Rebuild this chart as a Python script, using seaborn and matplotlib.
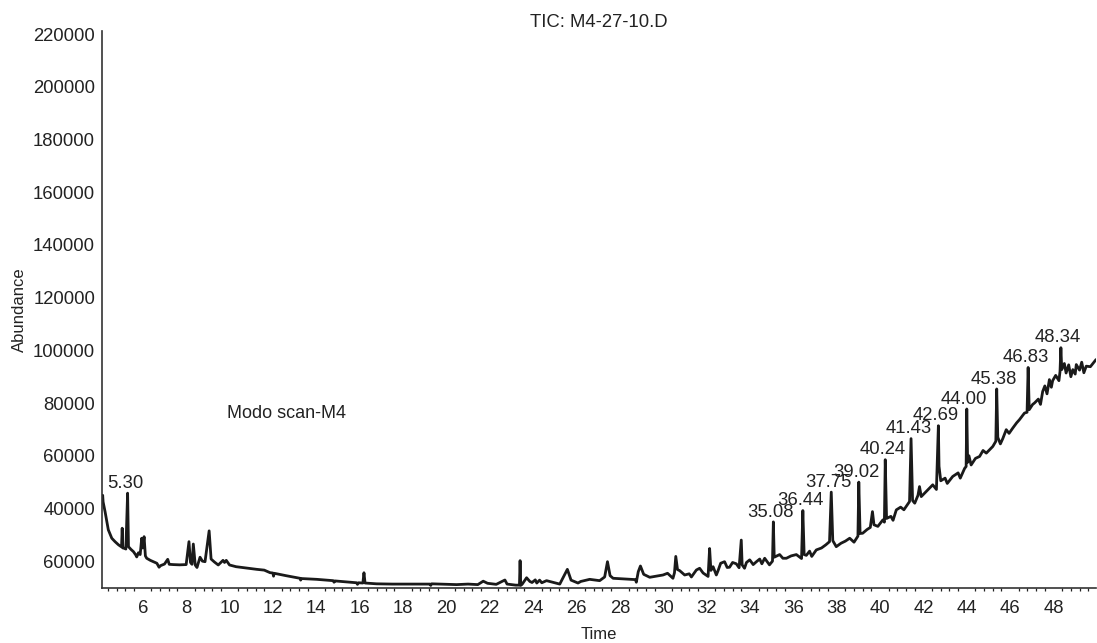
import numpy as np
import pandas as pd
import seaborn as sns
import matplotlib
matplotlib.use("Agg")
import matplotlib.pyplot as plt
from matplotlib.ticker import MultipleLocator

# TIC trace (time in min, abundance)
time = [4.13, 4.15, 4.17, 4.26, 4.41, 4.57, 4.72, 4.88, 4.98, 5.02, 5.05, 5.08,
        5.14, 5.22, 5.30, 5.34, 5.45, 5.57, 5.68, 5.72, 5.80, 5.88, 5.95, 6.00,
        6.06, 6.12, 6.18, 6.35, 6.49, 6.65, 6.75, 6.82, 7.00, 7.15, 7.22, 7.40,
        7.70, 8.00, 8.13, 8.20, 8.27, 8.33, 8.42, 8.50, 8.64, 8.75, 8.87, 9.06,
        9.15, 9.30, 9.48, 9.70, 9.77, 9.85, 10.00, 10.30, 10.64, 11.25, 11.60, 11.87,
        12.00, 12.03, 12.06, 12.60, 13.25, 13.28, 13.32, 14.02, 14.50, 14.78, 14.82, 14.86,
        15.40, 15.86, 15.90, 15.95, 16.15, 16.20, 16.25, 16.78, 17.50, 18.30, 19.24, 19.28,
        19.32, 20.00, 20.47, 21.00, 21.45, 21.70, 21.90, 22.30, 22.70, 22.80, 23.20, 23.37,
        23.40, 23.43, 23.50, 23.70, 23.85, 23.95, 24.10, 24.17, 24.30, 24.40, 24.62, 25.00,
        25.23, 25.58, 25.75, 26.07, 26.20, 26.61, 27.07, 27.30, 27.43, 27.55, 27.69, 28.30,
        28.72, 28.76, 28.85, 28.95, 29.10, 29.38, 29.99, 30.20, 30.45, 30.52, 30.58, 30.66,
        30.76, 30.99, 31.20, 31.30, 31.53, 31.68, 31.84, 32.07, 32.14, 32.20, 32.30, 32.45,
        32.53, 32.65, 32.83, 32.95, 33.06, 33.20, 33.37, 33.50, 33.60, 33.64, 33.75, 33.84,
        33.99, 34.15, 34.30, 34.45, 34.55, 34.68, 34.90, 35.04, 35.08, 35.12, 35.37, 35.52,
        35.68, 35.90, 36.14, 36.38, 36.44, 36.50, 36.60, 36.75, 36.85, 37.06, 37.30, 37.50,
        37.67, 37.75, 37.82, 37.98, 38.20, 38.40, 38.60, 38.80, 38.98, 39.02, 39.08, 39.20,
        39.40, 39.55, 39.65, 39.72, 39.90, 40.13, 40.20, 40.24, 40.30, 40.50, 40.60, 40.75,
        40.95, 41.10, 41.36, 41.43, 41.50, 41.60, 41.75, 41.82, 41.90, 42.10, 42.43, 42.60,
        42.69, 42.72, 42.80, 43.00, 43.10, 43.35, 43.60, 43.70, 43.90, 43.97, 44.00, 44.04,
        44.10, 44.20, 44.40, 44.59, 44.75, 44.90, 45.20, 45.34, 45.38, 45.43, 45.55, 45.66,
        45.82, 45.95, 46.12, 46.30, 46.43, 46.66, 46.78, 46.83, 46.88, 47.04, 47.12, 47.30,
        47.40, 47.50, 47.60, 47.70, 47.81, 47.90, 47.96, 48.10, 48.25, 48.30, 48.34, 48.38,
        48.50, 48.58, 48.70, 48.80, 48.89, 49.00, 49.05, 49.20, 49.30, 49.40, 49.51, 49.70,
        49.96]
abundance = [43000, 45000, 42500, 38800, 31900, 28700, 27400, 26200, 25600, 25400, 32500, 25000,
             24900, 24600, 45800, 25500, 24500, 23600, 22300, 21600, 23200, 22500, 28700, 25000,
             29300, 22000, 21100, 20300, 19800, 19200, 17700, 18300, 18900, 20700, 18800, 18700,
             18600, 18700, 27400, 19500, 18800, 26500, 18500, 17600, 21500, 20000, 19800, 31500,
             20800, 19700, 18550, 20300, 19500, 20300, 18550, 17900, 17530, 16900, 16600, 15630,
             15500, 14300, 15400, 14500, 13500, 12800, 13400, 13100, 12800, 12600, 12000, 12500,
             12100, 11800, 11200, 11800, 11700, 15600, 11700, 11400, 11300, 11300, 11300, 10800,
             11400, 11200, 11100, 11300, 11100, 12400, 11600, 11200, 12850, 11300, 10900, 10900,
             20200, 10800, 11300, 13700, 12300, 11900, 12900, 11700, 12800, 11800, 12600, 11800,
             11300, 16900, 12800, 11700, 12300, 13100, 12600, 14000, 19800, 14500, 13500, 13200,
             13000, 12000, 16000, 18170, 15000, 13880, 14750, 15400, 13500, 15600, 21800, 16800,
             16400, 14750, 15200, 14000, 16650, 17300, 15500, 14200, 24800, 16500, 17900, 14750,
             16400, 19200, 19800, 17600, 17700, 19500, 19000, 17500, 28000, 18600, 17300, 19500,
             20500, 18700, 19800, 20800, 19000, 21100, 18600, 20000, 34900, 21500, 22500, 21100,
             21100, 22000, 22500, 21000, 39200, 22500, 22200, 23800, 21800, 24260, 25000, 26200,
             27400, 46200, 27800, 25500, 26800, 27600, 28700, 27200, 29500, 50000, 30500, 30600,
             32000, 32800, 38800, 33800, 33200, 35660, 34800, 58500, 36200, 37000, 35500, 39460,
             40500, 39500, 42620, 66500, 43000, 42000, 45000, 48300, 44500, 46200, 48970, 47200,
             71400, 56000, 50500, 51500, 49500, 52130, 53500, 51500, 55200, 55930, 77750, 57500,
             60000, 56500, 59000, 59730, 62000, 61000, 63530, 65500, 85350, 67000, 64500, 66500,
             69900, 68500, 70500, 72500, 73700, 76200, 76500, 93500, 77500, 79500, 80000, 81500,
             79500, 84400, 86500, 83500, 88900, 86000, 88500, 90500, 88500, 92000, 101000, 92700,
             95000, 91400, 94500, 90000, 92700, 91000, 94600, 92500, 95500, 91500, 94000, 93800,
             96500]

# labelled peaks
peak_times = [5.30, 35.08, 36.44, 37.75, 39.02, 40.24, 41.43, 42.69, 44.00, 45.38, 46.83, 48.34]
peak_heights = [45800, 34900, 39200, 46200, 50000, 58500, 66500, 71400, 77750, 85350, 93500, 101000]
peak_labels = ["5.30", "35.08", "36.44", "37.75", "39.02", "40.24", "41.43", "42.69",
               "44.00", "45.38", "46.83", "48.34"]

ytick_values = [20000, 40000, 60000, 80000, 100000, 120000, 140000, 160000, 180000, 200000, 220000]
ytick_labels = ["60000", "40000", "60000", "80000", "100000", "120000", "140000",
                "160000", "180000", "200000", "220000"]

sns.set_style("white")
plt.rcParams['font.family'] = ['Liberation Sans', 'DejaVu Sans']

df = pd.DataFrame({"Time": time, "Abundance": abundance})

fig = plt.figure(figsize=(10.97, 6.43), dpi=100)
ax = fig.add_axes([0.093, 0.0863, 0.9065, 0.8655])
sns.lineplot(data=df, x="Time", y="Abundance", ax=ax, color="#1a1a1a",
             linewidth=2.0, estimator=None, sort=False)

ax.set_xlim(4.12, 49.98)
ax.set_ylim(10000, 221200)
ax.xaxis.set_minor_locator(MultipleLocator(0.4))
ax.set_xticks(np.arange(6, 50, 2))
ax.set_yticks(ytick_values)
ax.set_yticklabels(ytick_labels)
ax.tick_params(axis="x", which="major", length=4, width=1, direction="out",
               labelsize=13.3, pad=5, colors="#222222")
ax.tick_params(axis="x", which="minor", length=2.2, width=0.9, direction="out",
               colors="#222222", bottom=True)
ax.tick_params(axis="y", length=0, labelsize=13.3, pad=5, colors="#222222")

for side in ["top", "right"]:
    ax.spines[side].set_visible(False)
for side in ["left", "bottom"]:
    ax.spines[side].set_color("#333333")
    ax.spines[side].set_linewidth(1.2)

for t, h, lab in zip(peak_times, peak_heights, peak_labels):
    ax.annotate(lab, (t, h), xytext=(-2, 1), textcoords="offset points",
                ha="center", va="bottom", fontsize=13.3, color="#222222")

ax.text(9.9, 76000, "Modo scan-M4", ha="left", va="center", fontsize=13, color="#222222")
ax.set_title("TIC: M4-27-10.D", fontsize=13.3, color="#222222", pad=3)
ax.set_xlabel("Time", fontsize=12, color="#222222", labelpad=7)
ax.set_ylabel("Abundance", fontsize=12, color="#222222", labelpad=4)

fig.savefig("out.png", dpi=100)
